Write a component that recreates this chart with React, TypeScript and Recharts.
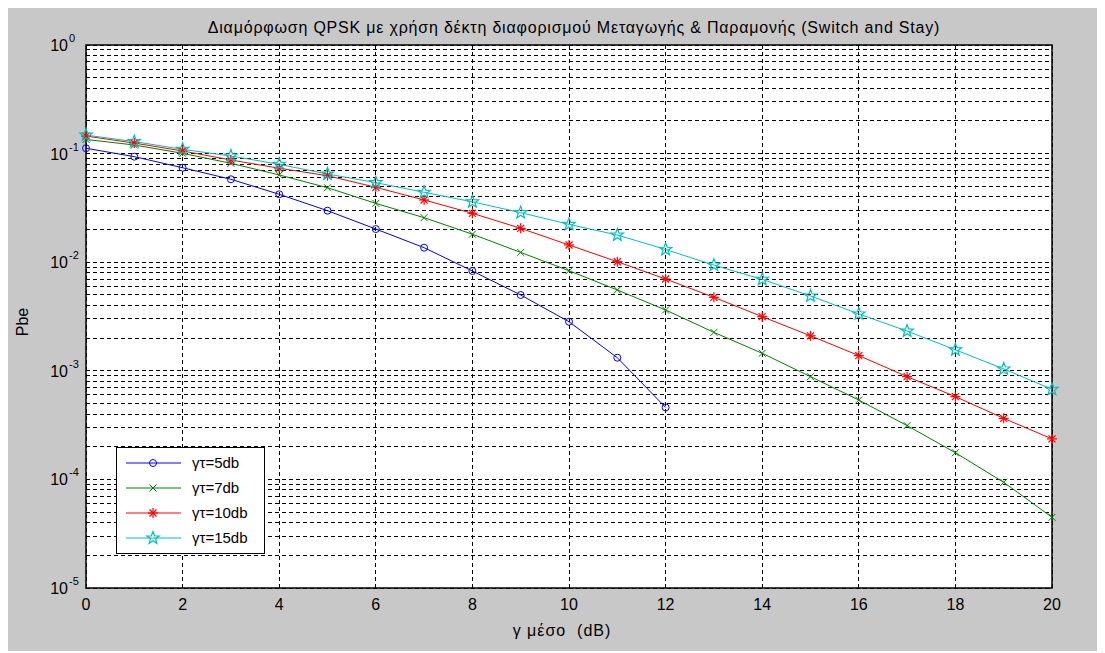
import React from 'react';
import {
  LineChart,
  Line,
  XAxis,
  YAxis,
  CartesianGrid,
  ReferenceArea,
} from 'recharts';

const gammaDb = [0, 1, 2, 3, 4, 5, 6, 7, 8, 9, 10, 11, 12, 13, 14, 15, 16, 17, 18, 19, 20];

// Pbe values
const pbe5 = [0.112, 0.0937, 0.0741, 0.058, 0.0422, 0.0298, 0.0202, 0.0136, 0.0083, 0.00499, 0.00283, 0.00132, 0.00046];
const pbe7 = [0.135, 0.12, 0.1006, 0.0814, 0.0636, 0.0485, 0.0348, 0.0257, 0.0181, 0.0123, 0.00835, 0.00555, 0.00363, 0.00226, 0.00145, 0.000883, 0.000538, 0.000313, 0.000176, 0.000094, 0.0000448];
const pbe10 = [0.145, 0.125, 0.1057, 0.0873, 0.0733, 0.0626, 0.0489, 0.0374, 0.0282, 0.0205, 0.0144, 0.0101, 0.007, 0.00475, 0.00315, 0.0021, 0.00138, 0.000883, 0.000578, 0.000365, 0.000236];
const pbe15 = [0.148, 0.129, 0.1095, 0.095, 0.0797, 0.0649, 0.054, 0.044, 0.036, 0.0286, 0.0223, 0.0178, 0.0131, 0.0094, 0.00695, 0.00489, 0.00334, 0.00232, 0.00156, 0.00104, 0.000676];

const xTicks = [0, 2, 4, 6, 8, 10, 12, 14, 16, 18, 20];
const decades = [-5, -4, -3, -2, -1];
const mantissas = [1, 2, 3, 4, 5, 6, 7, 8, 9];
const yTicks = [...decades.flatMap((e) => mantissas.map((m) => m * Math.pow(10, e))), 1];

const seriesNames = ['γτ=5db', 'γτ=7db', 'γτ=10db', 'γτ=15db'];
const seriesColors = ['#0000ff', '#008000', '#ff0000', '#00bfbf'];
const seriesKeys = ['g5', 'g7', 'g10', 'g15'];

const data = gammaDb.map((g, i) => ({
  g,
  g5: pbe5[i],
  g7: pbe7[i],
  g10: pbe10[i],
  g15: pbe15[i],
}));

const FONT = '"Liberation Sans", Arial, sans-serif';
const W = 1097;
const H = 643;
const PLOT = { left: 78, top: 37, right: 1044, bottom: 580 };

function Marker({ kind, cx, cy, color }: { kind: number; cx: number; cy: number; color: string }) {
  if (kind === 0) {
    return <circle cx={cx} cy={cy} r={3.5} fill="none" stroke={color} strokeWidth={1} />;
  }
  if (kind === 1) {
    const s = 3.5;
    return (
      <g stroke={color} strokeWidth={1}>
        <line x1={cx - s} y1={cy - s} x2={cx + s} y2={cy + s} />
        <line x1={cx - s} y1={cy + s} x2={cx + s} y2={cy - s} />
      </g>
    );
  }
  if (kind === 2) {
    const s = 5;
    const d = 3.5;
    return (
      <g stroke={color} strokeWidth={1.2}>
        <line x1={cx} y1={cy - s} x2={cx} y2={cy + s} />
        <line x1={cx - s} y1={cy} x2={cx + s} y2={cy} />
        <line x1={cx - d} y1={cy - d} x2={cx + d} y2={cy + d} />
        <line x1={cx - d} y1={cy + d} x2={cx + d} y2={cy - d} />
      </g>
    );
  }
  const pts: string[] = [];
  for (let k = 0; k < 10; k++) {
    const r = k % 2 === 0 ? 6.5 : 2.7;
    const a = -Math.PI / 2 + (k * Math.PI) / 5;
    pts.push(`${cx + r * Math.cos(a)},${cy + r * Math.sin(a)}`);
  }
  return <polygon points={pts.join(' ')} fill="none" stroke={color} strokeWidth={1.2} />;
}

function makeDot(kind: number, color: string) {
  return (props: any) => {
    const { cx, cy, index } = props;
    if (cx == null || cy == null || props.value == null) return <g key={`d-${kind}-${index}`} />;
    return (
      <g key={`d-${kind}-${index}`}>
        <Marker kind={kind} cx={cx} cy={cy} color={color} />
      </g>
    );
  };
}

function XTick({ x, payload }: any) {
  return (
    <text x={x} y={PLOT.bottom + 22} textAnchor="middle" fontSize={16} fontFamily={FONT} fill="#000">
      {payload.value}
    </text>
  );
}

function YTick({ y, payload }: any) {
  const v = payload.value;
  const e = Math.round(Math.log10(v));
  if (Math.abs(v - Math.pow(10, e)) > v * 1e-9) return <g />;
  return (
    <g fontFamily={FONT} fill="#000">
      <text x={PLOT.left - 18} y={y + 6} textAnchor="end" fontSize={16}>
        10
      </text>
      <text x={PLOT.left - 17} y={y - 3} textAnchor="start" fontSize={11}>
        {e}
      </text>
    </g>
  );
}

function LegendBox() {
  const rowY = [16, 41, 66, 91];
  return (
    <div
      style={{
        position: 'absolute',
        left: 108,
        top: 439,
        width: 149,
        height: 107,
        background: '#fff',
        border: '1px solid #000',
        boxSizing: 'border-box',
      }}
    >
      <svg width={149} height={107} style={{ position: 'absolute', left: -1, top: -1 }}>
        {seriesNames.map((name, i) => (
          <g key={name}>
            <line x1={10} y1={rowY[i]} x2={65} y2={rowY[i]} stroke={seriesColors[i]} strokeWidth={1} />
            <Marker kind={i} cx={37} cy={rowY[i]} color={seriesColors[i]} />
            <text x={76} y={rowY[i] + 5} fontSize={15} fontFamily={FONT} fill="#000">
              {name}
            </text>
          </g>
        ))}
      </svg>
    </div>
  );
}

export default function App() {
  return (
    <div style={{ position: 'relative', width: W, height: H, background: '#c8c8c8' }}>
      <LineChart
        width={W}
        height={H}
        data={data}
        margin={{ top: PLOT.top, right: W - PLOT.right, left: PLOT.left - 60, bottom: H - PLOT.bottom - 30 }}
      >
        <CartesianGrid
          stroke="#000"
          strokeWidth={1}
          strokeDasharray="4 3"
          shapeRendering="crispEdges"
          fill="#fff"
          fillOpacity={1}
        />
        <XAxis
          dataKey="g"
          type="number"
          domain={[0, 20]}
          ticks={xTicks}
          height={30}
          tickLine={false}
          axisLine={false}
          tick={<XTick />}
          interval={0}
        />
        <YAxis
          type="number"
          scale="log"
          domain={[1e-5, 1]}
          ticks={yTicks}
          width={60}
          allowDataOverflow
          tickLine={false}
          axisLine={false}
          tick={<YTick />}
          interval={0}
        />
        <ReferenceArea
          x1={0}
          x2={20}
          y1={1e-5}
          y2={1}
          fill="none"
          stroke="#000"
          strokeWidth={1.5}
          ifOverflow="visible"
        />
        {seriesKeys.map((k, i) => (
          <Line
            key={k}
            dataKey={k}
            stroke={seriesColors[i]}
            strokeWidth={1}
            dot={makeDot(i, seriesColors[i])}
            activeDot={false}
            isAnimationActive={false}
            type="linear"
          />
        ))}
        <text x={566} y={25} textAnchor="middle" fontSize={16} letterSpacing={0.8} fontFamily={FONT} fill="#000">
          Διαμόρφωση QPSK με χρήση δέκτη διαφορισμού Μεταγωγής &amp; Παραμονής (Switch and Stay)
        </text>
        <text x={554} y={628} textAnchor="middle" fontSize={16} letterSpacing={1} fontFamily={FONT} fill="#000">
          {'γ μέσο\u00a0 (dB)'}
        </text>
        <text
          x={20}
          y={314}
          textAnchor="middle"
          fontSize={16}
          fontFamily={FONT}
          fill="#000"
          transform="rotate(-90 20 314)"
        >
          Pbe
        </text>
      </LineChart>
      <LegendBox />
    </div>
  );
}
